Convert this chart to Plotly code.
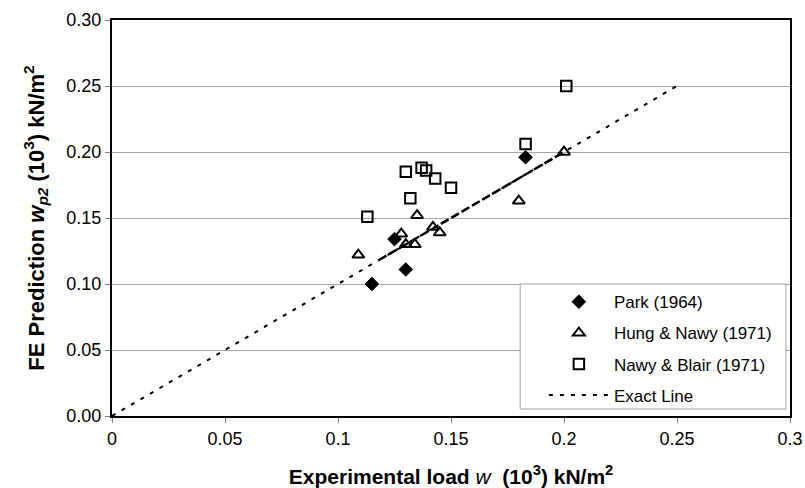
import plotly.graph_objects as go

# ---- data ----
park_x = [0.115, 0.125, 0.130, 0.183]
park_y = [0.100, 0.134, 0.111, 0.196]

hung_x = [0.109, 0.128, 0.130, 0.134, 0.135, 0.142, 0.145, 0.180, 0.200]
hung_y = [0.122, 0.138, 0.130, 0.130, 0.152, 0.143, 0.139, 0.163, 0.200]

blair_x = [0.113, 0.130, 0.132, 0.137, 0.139, 0.143, 0.150, 0.183, 0.201]
blair_y = [0.151, 0.185, 0.165, 0.188, 0.186, 0.180, 0.173, 0.206, 0.250]

exact_x = [0.0, 0.25]
exact_y = [0.0, 0.25]

trend_x = [0.118, 0.200]
trend_y = [0.118, 0.200]

x_ticks = [0, 0.05, 0.1, 0.15, 0.2, 0.25, 0.3]
x_ticktext = ["0", "0.05", "0.1", "0.15", "0.2", "0.25", "0.3"]
y_ticks = [0, 0.05, 0.1, 0.15, 0.2, 0.25, 0.3]
y_ticktext = ["0.00", "0.05", "0.10", "0.15", "0.20", "0.25", "0.30"]

FONT = "Liberation Sans, Arial, sans-serif"

fig = go.Figure()

fig.add_trace(go.Scatter(
    x=trend_x, y=trend_y, mode="lines", showlegend=False, hoverinfo="skip",
    line=dict(color="black", width=2.5, dash="9px,3px")))

fig.add_trace(go.Scatter(
    x=exact_x, y=exact_y, mode="lines", name="Exact Line", legendrank=4,
    legendgroup="d",
    line=dict(color="black", width=2, dash="4px,7px")))

fig.add_trace(go.Scatter(
    x=park_x, y=park_y, mode="markers", name="Park (1964)", legendrank=1,
    legendgroup="a",
    marker=dict(symbol="diamond", size=10.5, color="black",
                line=dict(color="black", width=1))))

fig.add_trace(go.Scatter(
    x=hung_x, y=hung_y, mode="markers", name="Hung & Nawy (1971)", legendrank=2,
    legendgroup="b",
    marker=dict(symbol="triangle-up-open", size=10.5, color="black",
                line=dict(color="black", width=2))))

fig.add_trace(go.Scatter(
    x=blair_x, y=blair_y, mode="markers", name="Nawy & Blair (1971)", legendrank=3,
    legendgroup="c",
    marker=dict(symbol="square-open", size=10.5, color="black",
                line=dict(color="black", width=2))))

# legend frame (white box hiding the gridline behind it)
fig.add_shape(type="rect", xref="paper", yref="paper",
              x0=0.602, x1=0.994, y0=0.0177, y1=0.3333,
              fillcolor="white", line=dict(color="#a0a0a0", width=1),
              layer="above")

fig.update_layout(
    width=805, height=488,
    margin=dict(l=112, r=15, t=20, b=72, autoexpand=False),
    paper_bgcolor="white", plot_bgcolor="white",
    font=dict(family=FONT, color="black"),
    showlegend=True,
    legend=dict(
        x=0.637, y=0.333, xanchor="left", yanchor="top",
        bgcolor="rgba(0,0,0,0)", borderwidth=0,
        font=dict(size=17, family=FONT, color="black"),
        itemwidth=60, traceorder="grouped", tracegroupgap=6,
    ),
    xaxis=dict(
        range=[0, 0.3], tickvals=x_ticks, ticktext=x_ticktext,
        showgrid=False, zeroline=False, automargin=False,
        showline=True, linecolor="black", linewidth=2, mirror=True,
        ticks="outside", ticklen=5, tickcolor="#808080",
        tickfont=dict(size=18, family=FONT),
        title=dict(text="<b>Experimental load </b><i>w</i><b>  (10<sup>3</sup>) kN/m<sup>2</sup></b>",
                   font=dict(size=21, family=FONT), standoff=22),
    ),
    yaxis=dict(
        range=[0, 0.3], tickvals=y_ticks, ticktext=y_ticktext,
        showgrid=True, gridcolor="#a6a6a6", gridwidth=1, zeroline=False,
        automargin=False,
        showline=True, linecolor="black", linewidth=2, mirror=True,
        ticks="outside", ticklen=5, tickcolor="#808080",
        tickfont=dict(size=18, family=FONT),
        title=dict(text="<b>FE Prediction <i>w</i><sub><i>p2</i></sub> (10<sup>3</sup>) kN/m<sup>2</sup></b>",
                   font=dict(size=22, family=FONT), standoff=16),
    ),
)

fig.write_html("out.html")
